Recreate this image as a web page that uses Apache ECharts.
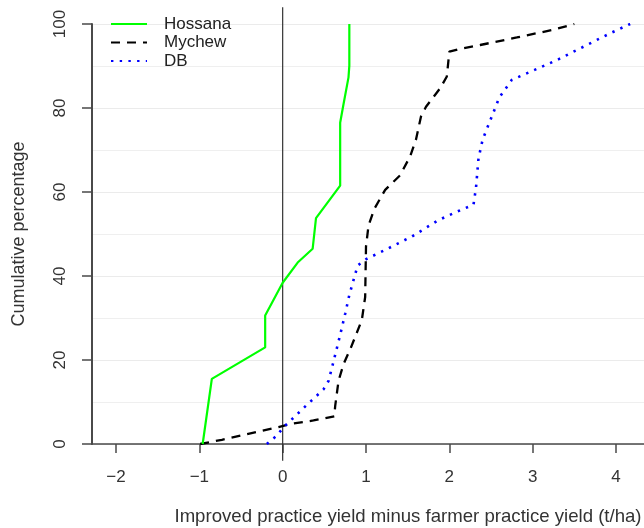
<!DOCTYPE html>
<html>
<head>
<meta charset="utf-8">
<script src="https://cdn.jsdelivr.net/npm/echarts@6/dist/echarts.min.js"></script>
<style>
    html, body { margin: 0; padding: 0; background: #fff; }
    #chart { width: 644px; height: 528px; }
</style>
</head>
<body>
<div id="chart"></div>
<script>
// data: [yield difference (t/ha), cumulative %]
const hossana = [
    [-0.96, 0], [-0.85, 15.5], [-0.21, 23], [-0.21, 30.6], [0, 38.4], [0.18, 43.2],
    [0.36, 46.5], [0.4, 53.8], [0.69, 61.5], [0.69, 76.5], [0.73, 80.9], [0.79, 87.3],
    [0.8, 90.1], [0.8, 100],
];
const mychew = [
    [-0.99, 0], [-0.73, 1], [-0.5, 2], [-0.28, 3], [-0.05, 4], [0.1, 4.8], [0.37, 5.6],
    [0.62, 6.6], [0.63, 9], [0.67, 15], [0.73, 19], [0.82, 23], [0.95, 29.5], [0.99, 35],
    [1.0, 47], [1.03, 52], [1.1, 56], [1.23, 60.5], [1.41, 64], [1.53, 68.5], [1.6, 72.5],
    [1.66, 78], [1.72, 80.3], [1.89, 84.7], [1.97, 87.5], [2.0, 93.4], [2.11, 94],
    [2.37, 95], [2.81, 96.8], [3.24, 98.6], [3.5, 100],
];
const db = [
    [-0.19, 0], [-0.07, 2], [0.01, 4], [0.09, 5.5], [0.29, 9.3], [0.49, 13], [0.55, 15],
    [0.61, 19.6], [0.69, 26], [0.75, 31], [0.8, 35.5], [0.9, 42.5], [1.0, 44], [1.25, 46.4],
    [1.55, 49.4], [1.87, 53.3], [2.09, 55.3], [2.29, 57], [2.32, 61], [2.35, 68], [2.4, 72.5],
    [2.5, 77.5], [2.6, 82.5], [2.75, 86.7], [2.97, 88.6], [3.29, 91.4], [3.61, 94.6],
    [3.93, 97.8], [4.17, 100],
];
// vertical reference line at x = 0 (runs past the plot, as in the original)
const zeroLine = [[0, -4], [0, 104]];
const xTicks = [-2, -1, 0, 1, 2, 3, 4];
const seriesNames = ['Hossana', 'Mychew', 'DB'];

const axisColor = '#4a4a4a',
    labelColor = '#333',
    fontFamily = 'Liberation Sans, Arial, sans-serif';

const option = {
    animation: false,
    grid: { left: 92, right: 0, top: 24, bottom: 84 },
    legend: {
        data: seriesNames,
        left: 110,
        top: 15,
        orient: 'vertical',
        padding: 0,
        itemWidth: 36,
        itemHeight: 14,
        itemGap: 0.5,
        itemStyle: { opacity: 0, borderWidth: 0 },
        textStyle: {
            fontFamily: fontFamily,
            fontSize: 17,
            lineHeight: 18,
            color: '#222',
            padding: [0, 0, 0, 12],
        },
    },
    xAxis: {
        type: 'value',
        min: -2.288,
        max: 4.336,
        axisLine: { lineStyle: { color: axisColor, width: 1.5 } },
        axisTick: { customValues: xTicks, length: 9, lineStyle: { color: axisColor, width: 1.5 } },
        axisLabel: {
            customValues: xTicks,
            margin: 25,
            fontFamily: fontFamily,
            fontSize: 17,
            color: labelColor,
            formatter: (v) => (v < 0 ? '\u2212' + Math.abs(v) : String(v)),
        },
        splitLine: { show: false },
    },
    yAxis: {
        type: 'value',
        position: 'left',
        min: 0,
        max: 100,
        interval: 20,
        name: 'Cumulative percentage',
        nameLocation: 'middle',
        nameGap: 64,
        nameTextStyle: { fontFamily: fontFamily, fontSize: 18, color: labelColor },
        axisLine: { show: true, onZero: false, lineStyle: { color: axisColor, width: 2 } },
        axisTick: { show: true, length: 10, lineStyle: { color: axisColor, width: 1.5 } },
        axisLabel: {
            rotate: 90,
            margin: 23,
            fontFamily: fontFamily,
            fontSize: 17,
            color: labelColor,
        },
        splitLine: { show: true, lineStyle: { color: '#ebebeb', width: 1 } },
        minorTick: { show: false, splitNumber: 2 },
        minorSplitLine: { show: true, lineStyle: { color: '#efefef', width: 1 } },
    },
    graphic: [
        {
            type: 'text',
            x: 408,
            y: 517,
            style: {
                text: 'Improved practice yield minus farmer practice yield (t/ha)',
                fontFamily: fontFamily,
                fontSize: 18.6,
                fill: labelColor,
                textAlign: 'center',
                textVerticalAlign: 'middle',
            },
        },
    ],
    series: [
        {
            name: 'Hossana',
            type: 'line',
            data: hossana,
            symbol: 'none',
            color: '#00ff00',
            lineStyle: { color: '#00ff00', width: 2.2 },
            z: 4,
        },
        {
            name: 'Mychew',
            type: 'line',
            data: mychew,
            symbol: 'none',
            color: '#000',
            lineStyle: { color: '#000', width: 2.3, type: [9, 7] },
            z: 3,
        },
        {
            name: 'DB',
            type: 'line',
            data: db,
            symbol: 'none',
            color: '#0000ff',
            lineStyle: { color: '#0000ff', width: 2.6, type: [2.4, 6.3] },
            z: 3,
        },
        {
            name: 'zero',
            type: 'line',
            data: zeroLine,
            symbol: 'none',
            clip: false,
            silent: true,
            lineStyle: { color: '#333', width: 1.2 },
            z: 2,
        },
    ],
};

let myChart = echarts.init(document.getElementById('chart'));
myChart.setOption(option);
</script>
</body>
</html>
